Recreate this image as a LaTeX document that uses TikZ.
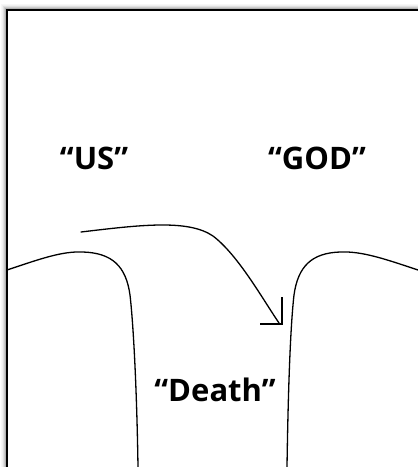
\documentclass[tikz,border=0pt]{standalone}
\usepackage{fontspec}
\setmainfont{Open Sans}
\begin{document}
\begin{tikzpicture}[x=1pt,y=-1pt,
  curve/.style={line width=1.3pt,line cap=round},
  frame/.style={line width=2pt},
  lbl/.style={font=\fontsize{31}{36}\selectfont\bfseries,inner sep=0pt}]
\useasboundingbox (0,0) rectangle (418,467);
% shadow
\foreach \d/\g in {1/30,2/20,3/12,4/6,5/3}{
  \draw[black!\g,line width=1pt] (6.5-\d,467) -- (6.5-\d,9.5-\d) -- (418,9.5-\d);
}
\draw[frame] (6.5,467) -- (6.5,9.5) -- (418,9.5);
% cliffs
\draw[curve] (7,270) .. controls (40,259) and (62,251) .. (83,252)
  .. controls (112,253) and (126,266) .. (130,295)
  .. controls (134,330) and (137,400) .. (138,467);
\draw[curve] (418,270) .. controls (385,259) and (362,251) .. (340,252)
  .. controls (312,253) and (298,266) .. (294,295)
  .. controls (290,330) and (288,400) .. (287,467);
% labels
\node[lbl] (us) at (94,158) {“US”};
\node[lbl] (god) at (317,158) {“GOD”};
\node[lbl] (death) at (215,390) {“Death”};
% arrow
\coordinate (a0) at (81,232);
\coordinate (a1) at (279,323);
\coordinate (tip) at (282,324);
\draw[curve] (a0) .. controls (140,225) and (188,219) .. (213,236)
  .. controls (238,255) and (262,298) .. (a1);
\draw[curve,line cap=butt] (282,297) -- (tip) -- (260,324);
\end{tikzpicture}
\end{document}
